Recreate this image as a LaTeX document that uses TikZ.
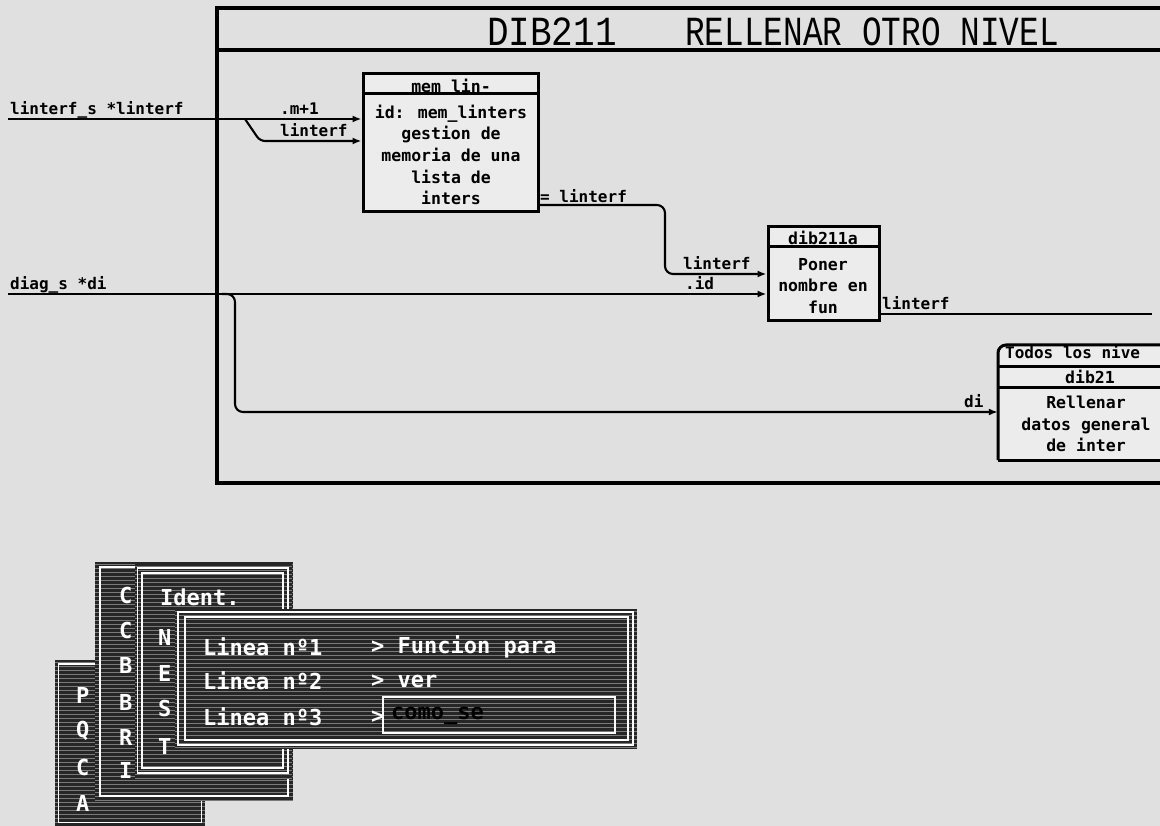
\documentclass[tikz,border=0pt]{standalone}
\usepackage{fontspec}
\usepackage{graphicx}
\usetikzlibrary{arrows.meta}
\newfontfamily\dmono{DejaVu Sans Mono}
\newfontfamily\tmono{Liberation Mono}
\definecolor{bg}{HTML}{E0E0E0}
\definecolor{boxbg}{HTML}{ECECEC}
\definecolor{win}{HTML}{262626}
\definecolor{scanc}{HTML}{7A7A7A}
\tikzset{
  frameline/.style={line width=3.4pt},
  boxline/.style={draw, line width=3pt, fill=boxbg, inner sep=0pt},
  conn/.style={line width=2.1pt, rounded corners=8pt},
  arr/.style={-{Latex[length=9pt,width=7pt]}},
  lbl/.style={font=\dmono\bfseries\fontsize{16}{18}\selectfont, inner sep=0pt, anchor=base west},
  body/.style={font=\dmono\bfseries\fontsize{16.5}{21.6}\selectfont, align=center, inner sep=0pt},
  menutxt/.style={font=\dmono\bfseries\fontsize{22}{24}\selectfont, text=white, inner sep=0pt, anchor=west},
  scan/.style={draw=scanc, line width=0.8pt},
  wedge/.style={draw=white, line width=1.4pt},
}
\newcommand\mwin[4]{%
  \fill[win] (#1,#2) rectangle (#3,#4);
  \begin{scope}
    \clip (#1,#2) rectangle (#3,#4);
    \foreach \k in {0,...,70} {\draw[scan] (#1,{#2+2+4*\k}) -- (#3,{#2+2+4*\k});}
  \end{scope}}
\begin{document}
\begin{tikzpicture}[x=1pt,y=-1pt]
% background / bounding box
\fill[bg] (0,0) rectangle (1160,826);
\useasboundingbox (0,0) rectangle (1160,826);

% main frame
\draw[frameline] (1165,8) -- (217,8) -- (217,483) -- (1165,483);
\draw[frameline] (217,50) -- (1165,50);
\node[font=\tmono\fontsize{36}{36}\selectfont, inner sep=0pt] (t1) at (552,32) {\scalebox{1}[1.15]{DIB211}};
\node[font=\tmono\fontsize{36}{36}\selectfont, inner sep=0pt] (t2) at (872,32) {\scalebox{0.91}[1.15]{RELLENAR OTRO NIVEL}};

% box mem lin-
\node[boxline, minimum width=175pt, minimum height=138pt] (memlin) at (450.5,143) {};
\draw[line width=3pt] (memlin.north west |- 0,94) -- (memlin.north east |- 0,94);
\node[body] (memlint) at (451,86) {mem lin-};
\node[body] (memlinb) at (451,155) {id: mem\_linters\\gestion de\\memoria de una\\lista de\\inters};

% box dib211a
\node[boxline, minimum width=111pt, minimum height=94pt] (dib211a) at (823.5,274) {};
\draw[line width=3pt] (dib211a.north west |- 0,247) -- (dib211a.north east |- 0,247);
\node[body] (dibat) at (823,238) {dib211a};
\node[body] (dibab) at (823,286) {Poner\\nombre en\\fun};

% box dib21 (open to the right)
\node[inner sep=0pt, minimum width=180pt, minimum height=115pt] (dib21) at (1088,402.5) {};
\fill[boxbg] (998,345) rectangle (1165,460);
\draw[line width=3pt, rounded corners=8pt] (1165,345) -- (998,345) -- (998,460);
\draw[line width=3pt] (998,460) -- (1165,460);
\draw[line width=3pt] (998,367) -- (1165,367);
\draw[line width=3pt] (998,388) -- (1165,388);
\node[lbl] (todos) at (1005,359) {Todos los nive};
\node[body] (dib21t) at (1090,377) {dib21};
\node[body] (dib21b) at (1086,424) {Rellenar\\datos general\\de inter};

% connectors
\coordinate (lsrc) at (8,119);
\coordinate (br1) at (245,119);
\coordinate (dsrc) at (8,294);
\coordinate (br2) at (222,294);
\coordinate (outend) at (1152,314);

\draw[conn, arr] (lsrc) -- ([yshift=24pt]memlin.west);
\draw[conn, rounded corners=5pt, arr] (br1) -- (260,141) -- ([yshift=2pt]memlin.west);
\draw[conn, arr] ([yshift=-62pt]memlin.east) -- (665,205) -- (665,274) -- (dib211a.west);
\draw[conn, arr] (dsrc) -- ([yshift=-20pt]dib211a.west);
\draw[conn, arr] (br2) -- (235,294) -- (235,412) -- ([yshift=-9.5pt]dib21.west);
\draw[conn] ([yshift=-40pt]dib211a.east) -- (outend);

% labels
\node[lbl] (l1) at (10,115) {linterf\_s *linterf};
\node[lbl] (l2) at (280,115) {.m+1};
\node[lbl] (l3) at (280,137) {linterf};
\node[lbl] (l4) at (540,203) {= linterf};
\node[lbl] (l5) at (683,270) {linterf};
\node[lbl] (l6) at (685,290) {.id};
\node[lbl] (l7) at (10,290) {diag\_s *di};
\node[lbl] (l8) at (882,310) {linterf};
\node[lbl] (l9) at (964,408) {di};

% menu windows
\mwin{55}{660}{205}{830}
\draw[wedge] (58.5,664) rectangle (201.5,822.5);
\node[menutxt] (w1a) at (76,695) {P};
\node[menutxt] (w1b) at (76,731) {Q};
\node[menutxt] (w1c) at (76,767) {C};
\node[menutxt] (w1d) at (76,803) {A};

\mwin{95}{562}{293}{801}
\draw[wedge] (100,567) rectangle (288,796);
\node[menutxt] (w2a) at (119,595) {C};
\node[menutxt] (w2b) at (119,630) {C};
\node[menutxt] (w2c) at (119,665) {B};
\node[menutxt] (w2d) at (119,702) {B};
\node[menutxt] (w2e) at (119,737) {R};
\node[menutxt] (w2f) at (119,770) {I};

\mwin{135}{564}{292}{778}
\draw[wedge] (137.5,568) rectangle (288,773);
\draw[wedge] (142,573) rectangle (283,768);
\node[menutxt] (w3a) at (160,597) {Ident.};
\node[menutxt] (w3b) at (158,637) {N};
\node[menutxt] (w3c) at (158,673) {E};
\node[menutxt] (w3d) at (158,708) {S};
\node[menutxt] (w3e) at (158,746) {T};

\mwin{175}{609}{637}{749}
\draw[wedge] (178,612) rectangle (633,745);
\draw[wedge] (185,617) rectangle (628,740);
\node[menutxt] (w4a) at (203,647) {Linea nº1};
\node[menutxt] (w4b) at (203,681) {Linea nº2};
\node[menutxt] (w4c) at (203,717) {Linea nº3};
\node[menutxt] (w4d) at (371,647) {> Funcion para};
\node[menutxt] (w4e) at (371,681) {> ver};
\node[menutxt] (w4f) at (371,717) {>};
\draw[wedge] (383,697) rectangle (615,733);
\node[menutxt, text=black] (w4g) at (391,716) {como\_se};
\end{tikzpicture}
\end{document}
